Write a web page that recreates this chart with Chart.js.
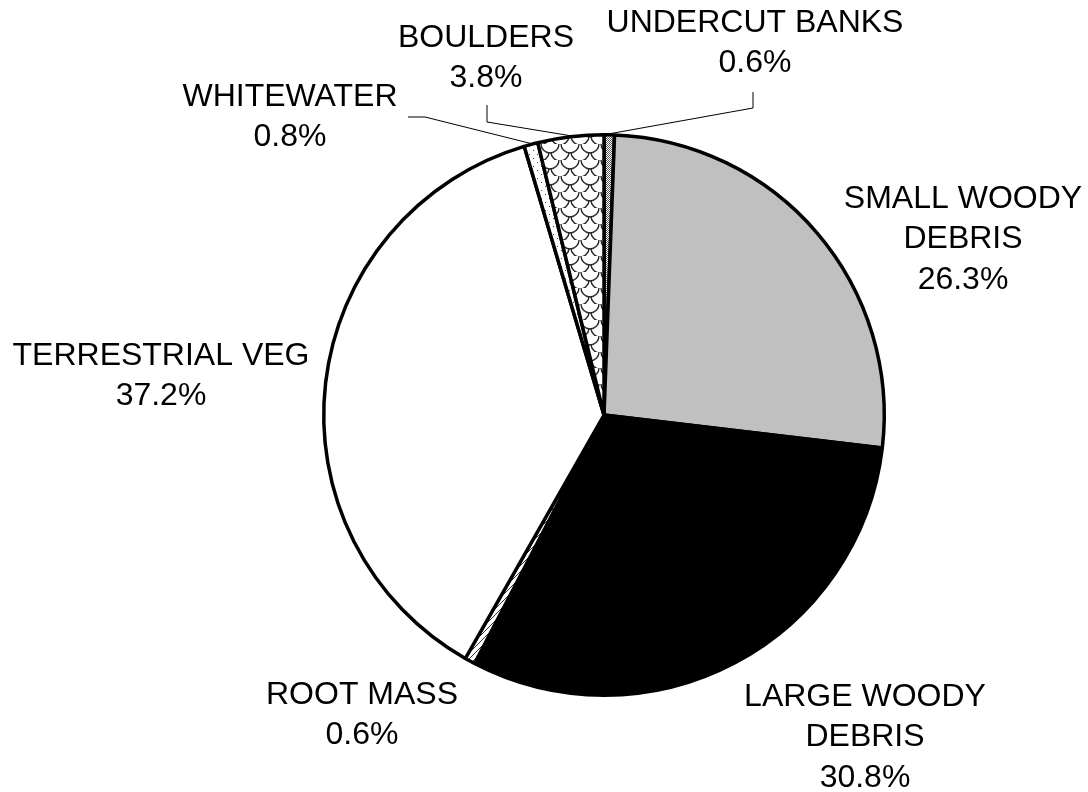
<!DOCTYPE html>
<html>
<head>
<meta charset="utf-8">
<title>Habitat Cover Types</title>
<script src="https://cdn.jsdelivr.net/npm/chart.js@4.4.1/dist/chart.umd.min.js"></script>
<style>
    html, body { margin: 0; padding: 0; background: #ffffff; }
    #wrap { width: 1088px; height: 792px; }
</style>
</head>
<body>
<div id="wrap"><canvas id="cover-pie-chart" width="1088" height="792"></canvas></div>
<script>
// Cover types, clockwise from 12 o'clock
const coverTypes = [
    ['UNDERCUT BANKS'],
    ['SMALL WOODY', 'DEBRIS'],
    ['LARGE WOODY', 'DEBRIS'],
    ['ROOT MASS'],
    ['TERRESTRIAL VEG'],
    ['WHITEWATER'],
    ['BOULDERS']
];
const coverPercent = [0.6, 26.3, 30.8, 0.6, 37.2, 0.8, 3.8];

// Label block centres (first line) and leader elbows, in canvas px
const labelCenters = [[755, 23], [963, 199], [865, 697], [362, 695], [161, 356], [290, 97], [486, 38]];
const leaderPaths = [
    [[753, 108], [753, 92]],
    null,
    null,
    null,
    null,
    [[425, 117], [408, 117]],
    [[487, 122], [487, 105]]
];

const FONT = '32px "Liberation Sans", Arial, sans-serif';
const LINE_GAP = 40.5;

// Pola isian untuk tiap irisan
function makePattern(size, draw) {
    const c = document.createElement('canvas');
    c.width = size[0];
    c.height = size[1];
    const g = c.getContext('2d');
    g.fillStyle = '#ffffff';
    g.fillRect(0, 0, c.width, c.height);
    draw(g, c.width, c.height);
    return g.createPattern(c, 'repeat');
}

const ctx = document.getElementById('cover-pie-chart').getContext('2d');

const stipple = makePattern([2, 2], (g) => {
    g.fillStyle = '#5a5a5a';
    g.fillRect(0, 0, 1, 1);
    g.fillRect(1, 1, 1, 1);
});

const diagonal = makePattern([6, 6], (g) => {
    g.strokeStyle = '#333333';
    g.lineWidth = 1;
    g.beginPath();
    g.moveTo(0, 6);
    g.lineTo(6, 0);
    g.stroke();
});

const sparseDots = makePattern([8, 8], (g) => {
    g.fillStyle = '#444444';
    g.fillRect(1, 2, 1, 1);
    g.fillRect(5, 6, 1, 1);
});

// sisik untuk BOULDERS
const scales = makePattern([20, 16], (g) => {
    g.strokeStyle = '#2a2a2a';
    g.lineWidth = 1.4;
    [[10, 0], [0, 8], [20, 8], [10, 16]].forEach(([x, y]) => {
        g.beginPath();
        g.arc(x, y, 9, 0, Math.PI);
        g.stroke();
    });
});

const fills = [stipple, '#c0c0c0', '#000000', diagonal, '#ffffff', sparseDots, scales];

// Label dan garis penunjuk
const sliceLabels = {
    id: 'sliceLabels',
    afterDatasetsDraw(chart) {
        const c = chart.ctx;
        const arcs = chart.getDatasetMeta(0).data;
        c.save();
        c.font = FONT;
        c.fillStyle = '#000000';
        c.textAlign = 'center';
        c.textBaseline = 'middle';

        arcs.forEach((arc, i) => {
            const lines = coverTypes[i].concat([coverPercent[i].toFixed(1) + '%']);
            const [cx, cy] = labelCenters[i];
            lines.forEach((t, k) => c.fillText(t, cx, cy + k * LINE_GAP));

            const path = leaderPaths[i];
            if (path) {
                const mid = (arc.startAngle + arc.endAngle) / 2;
                const r = arc.outerRadius + 1;
                c.strokeStyle = '#000000';
                c.lineWidth = 1;
                c.beginPath();
                c.moveTo(arc.x + Math.cos(mid) * r, arc.y + Math.sin(mid) * r);
                path.forEach(p => c.lineTo(p[0], p[1]));
                c.stroke();
            }
        });
        c.restore();
    }
};

window.coverPieChart = new Chart(ctx, {
    type: 'pie',
    data: {
        labels: coverTypes.map(l => l.join(' ')),
        datasets: [{
            data: coverPercent,
            backgroundColor: fills,
            borderColor: '#000000',
            borderWidth: 3.5
        }]
    },
    options: {
        responsive: false,
        animation: false,
        layout: {
            padding: { left: 322, right: 202, top: 133, bottom: 95 }
        },
        plugins: {
            legend: { display: false },
            tooltip: { enabled: false },
            title: { display: false }
        }
    },
    plugins: [sliceLabels]
});
</script>
</body>
</html>
